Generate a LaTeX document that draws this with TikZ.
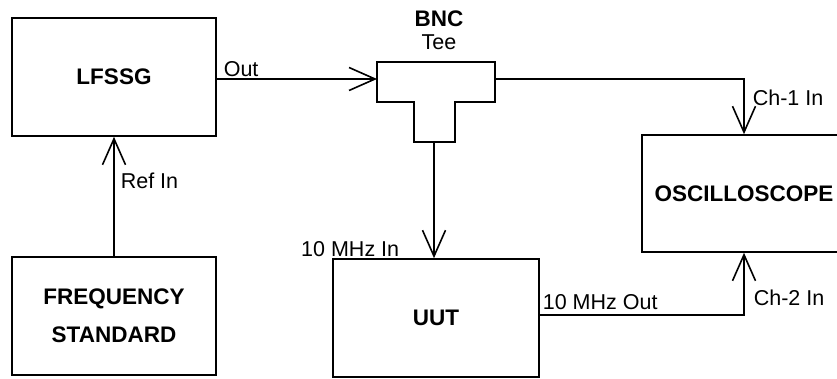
\documentclass[tikz,border=0pt]{standalone}
\usepackage{fontspec}
\setmainfont{Liberation Sans}
\usetikzlibrary{arrows.meta}

\begin{document}
\begin{tikzpicture}[x=1pt,y=-1pt,line width=1.6pt,
    >={Straight Barb[length=26pt,width=23pt,line width=1.6pt]},
    unit/.style={draw,minimum width=204pt,minimum height=118pt,inner sep=0pt,
      align=center,font=\fontsize{22.5}{38}\selectfont\bfseries},
    lbl/.style={inner sep=0pt,font=\fontsize{21.5}{24}\selectfont}]
  \useasboundingbox (0,0) rectangle (837,379);
  \clip (0,0) rectangle (837,379);
  \node[unit] (lfssg) at (114,77) {LFSSG};
  \node[unit] (freq) at (114,316) {FREQUENCY\\STANDARD};
  \node[unit,minimum width=206pt] (uut) at (436,318) {UUT};
  \node[unit,minimum height=117pt] (osc) at (744,193.5) {OSCILLOSCOPE};
  \draw (377,62) -- (495,62) -- (495,102) -- (455,102) -- (455,142)
    -- (414,142) -- (414,102) -- (377,102) -- cycle;
  \coordinate (teeL) at (377,79);
  \coordinate (teeR) at (495,79);
  \coordinate (teeB) at (434,142);
  \node[lbl,font=\fontsize{22.5}{24}\selectfont\bfseries] (bnc) at (439,19) {BNC};
  \node[lbl] (tee) at (439,42) {Tee};
  \draw[->] (freq.north) -- (lfssg.south);
  \draw[->] (lfssg.east |- teeL) -- (teeL);
  \draw[->] (teeR) -| (osc.north);
  \draw[->] (teeB) -- (teeB |- uut.north);
  \draw[->] (uut.east |- 0,315) -| (osc.south);
  \node[lbl,anchor=west] (out) at (223,69) {Out};
  \node[lbl,anchor=west] (refin) at (120,181) {Ref In};
  \node[lbl,anchor=west] (ch1) at (752,98) {Ch-1 In};
  \node[lbl,anchor=east] (mhzin) at (400,249) {10 MHz In};
  \node[lbl,anchor=west] (mhzout) at (542,302) {10 MHz Out};
  \node[lbl,anchor=west] (ch2) at (753,298) {Ch-2 In};
\end{tikzpicture}
\end{document}
